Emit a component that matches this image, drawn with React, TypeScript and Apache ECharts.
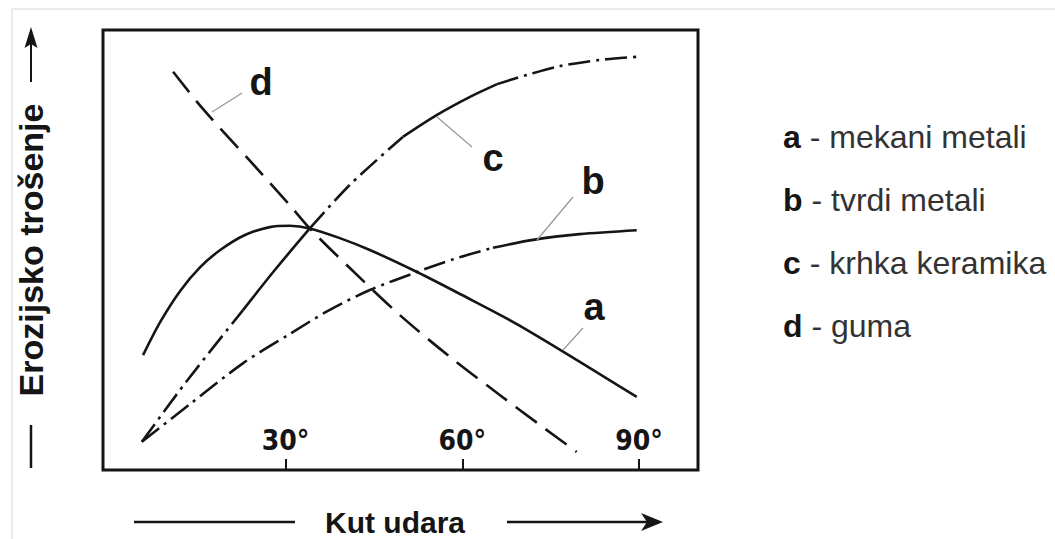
import React, { useEffect, useRef } from "react";
import * as echarts from "echarts";

// Curve a – mekani metali (solid)
const angleA = [5.8, 8.7, 12.1, 15.5, 18.9, 23.1, 27.3, 30.7, 34.1, 39.2, 44.3, 52.3, 59.6, 70.0, 89.6];
const wearA = [26.1, 33.6, 40.7, 46.1, 50.0, 53.4, 55.2, 55.5, 54.9, 52.7, 50.0, 45.0, 40.0, 32.6, 16.6];

// Curve b – tvrdi metali (dash-dot, solid at the end)
const angleB = [5.6, 13.8, 22.8, 30.7, 37.5, 44.3, 52.3, 58.7, 65.2, 72.0, 79.9, 89.6];
const wearB = [6.4, 15.0, 24.3, 30.9, 36.4, 40.9, 45.0, 48.0, 50.5, 52.3, 53.6, 54.5];

// Curve c – krhka keramika (dash-dot with solid stretches)
const angleC = [5.6, 13.1, 22.8, 28.2, 34.1, 40.9, 49.9, 55.7, 61.3, 65.9, 71.5, 76.6, 83.4, 89.6];
const wearC = [6.4, 20.0, 36.4, 45.5, 54.9, 64.8, 75.7, 80.7, 84.8, 87.7, 90.0, 91.8, 93.2, 93.9];

// Curve d – guma (dashed)
const angleD = [10.9, 16.0, 24.0, 30.7, 34.1, 40.9, 49.4, 57.9, 66.4, 73.2, 79.4];
const wearD = [90.5, 82.0, 70.2, 60.2, 54.9, 45.9, 35.2, 25.7, 17.0, 10.2, 4.1];

const tickValues = [30, 60, 90];
const legendKeys = ["a", "b", "c", "d"];
const legendNames = ["mekani metali", "tvrdi metali", "krhka keramika", "guma"];
const yTitle = "Erozijsko trošenje";
const xTitle = "Kut udara";

// style segments (index ranges into the arrays above)
const bSegments: [number, number, string][] = [[0, 8, "dashdot"], [8, 11, "solid"]];
const cSegments: [number, number, string][] = [
  [0, 2, "dashdot"], [2, 4, "solid"], [4, 6, "dashdot"], [6, 9, "solid"], [9, 13, "dashdot"],
];

const INK = "#151515";
const LW = 2.6;
const DASHDOT = [22, 6, 3, 6];
const DASHED = [26, 11];
const FONT = "Liberation Sans, Arial, sans-serif";

function pts(xs: number[], ys: number[], from = 0, to = xs.length - 1) {
  const out: number[][] = [];
  for (let i = from; i <= to; i++) out.push([xs[i], ys[i]]);
  return out;
}

function lineSeries(name: string, data: number[][], type: any) {
  return {
    name,
    type: "line",
    data,
    smooth: 0.3,
    showSymbol: false,
    silent: true,
    lineStyle: { color: INK, width: LW, type, cap: "butt" },
  };
}

export default function App() {
  const ref = useRef<HTMLDivElement>(null);
  useEffect(() => {
    if (!ref.current) return;
    const chart = echarts.init(ref.current, null, { renderer: "svg" });
    const series: any[] = [];
    series.push(lineSeries("a", pts(angleA, wearA), "solid"));
    bSegments.forEach(([f, t, s]) =>
      series.push(lineSeries("b", pts(angleB, wearB, f, t), s === "solid" ? "solid" : DASHDOT))
    );
    cSegments.forEach(([f, t, s]) =>
      series.push(lineSeries("c", pts(angleC, wearC, f, t), s === "solid" ? "solid" : DASHDOT))
    );
    series.push(lineSeries("d", pts(angleD, wearD), DASHED));

    const lead = (x1: number, y1: number, x2: number, y2: number) => ({
      type: "line",
      shape: { x1, y1, x2, y2 },
      style: { stroke: "#9a9a9a", lineWidth: 1.3 },
      z: 10,
    });
    const curveLabel = (t: string, x: number, y: number) => ({
      type: "text",
      style: {
        text: t, x, y, fill: INK, fontSize: 38, fontWeight: "bold",
        fontFamily: FONT, align: "center", verticalAlign: "middle",
      },
      z: 10,
    });

    const graphic: any[] = [
      // faint border of the original scan
      { type: "line", shape: { x1: 12, y1: 9, x2: 1055, y2: 9 }, style: { stroke: "#e4e4e4", lineWidth: 1.5 } },
      { type: "line", shape: { x1: 12, y1: 9, x2: 12, y2: 539 }, style: { stroke: "#e4e4e4", lineWidth: 1.5 } },
      // y title with arrow
      {
        type: "text",
        x: 31, y: 250, rotation: Math.PI / 2,
        style: {
          text: yTitle, x: 0, y: 0, fill: INK, fontSize: 34, fontWeight: "bold",
          fontFamily: FONT, align: "center", verticalAlign: "middle",
        },
      },
      { type: "line", shape: { x1: 31, y1: 82, x2: 31, y2: 42 }, style: { stroke: INK, lineWidth: 2 } },
      { type: "polygon", shape: { points: [[31, 27], [37.5, 48], [31, 44], [24.5, 48]] }, style: { fill: INK } },
      { type: "line", shape: { x1: 31, y1: 425, x2: 31, y2: 468 }, style: { stroke: INK, lineWidth: 2.5 } },
      // x title with arrows
      { type: "line", shape: { x1: 134, y1: 522, x2: 295, y2: 522 }, style: { stroke: INK, lineWidth: 2.5 } },
      { type: "line", shape: { x1: 507, y1: 522, x2: 652, y2: 522 }, style: { stroke: INK, lineWidth: 2.5 } },
      { type: "polygon", shape: { points: [[663, 522], [641, 513], [647, 522], [641, 531]] }, style: { fill: INK } },
      {
        type: "text",
        style: {
          text: xTitle, x: 395, y: 522, fill: INK, fontSize: 30, fontWeight: "bold",
          fontFamily: FONT, align: "center", verticalAlign: "middle",
        },
      },
      // curve labels and leader lines
      curveLabel("d", 261, 82), lead(242, 93, 212, 112),
      curveLabel("c", 493, 158), lead(472, 147, 437, 117),
      curveLabel("b", 593, 181), lead(573, 197, 537, 240),
      curveLabel("a", 594, 307), lead(583, 328, 563, 350),
    ];
    legendKeys.forEach((k, i) => {
      graphic.push({
        type: "text",
        style: {
          text: `{k|${k}} - ${legendNames[i]}`,
          x: 783, y: 137 + i * 63, fill: "#333", fontSize: 32,
          fontFamily: FONT, align: "left", verticalAlign: "middle",
          rich: {
            k: { fontSize: 32, fontWeight: "bold", fill: INK, fontFamily: FONT },
          },
        },
      });
    });

    chart.setOption({
      animation: false,
      backgroundColor: "#ffffff",
      grid: {
        left: 103, top: 30, width: 595, height: 440,
        show: true, borderColor: INK, borderWidth: 3, backgroundColor: "transparent",
      },
      xAxis: {
        type: "value", min: -1, max: 100,
        splitLine: { show: false },
        axisLine: { show: false },
        axisTick: {
          show: true, inside: true, length: 11, customValues: tickValues,
          lineStyle: { color: INK, width: 2 },
        },
        axisLabel: {
          show: true, inside: true, margin: 16, customValues: tickValues,
          formatter: (v: number) => `${v}°`,
          color: INK, fontSize: 28, fontWeight: "bold",
          fontFamily: "Liberation Sans Narrow, DejaVu Sans Condensed, sans-serif",
        },
      },
      yAxis: { type: "value", min: 0, max: 100, show: false },
      series,
      graphic,
    });
    return () => chart.dispose();
  }, []);
  return (
    <div
      ref={ref}
      style={{ position: "absolute", left: 0, top: 0, width: 1055, height: 539, background: "#fff" }}
    />
  );
}
